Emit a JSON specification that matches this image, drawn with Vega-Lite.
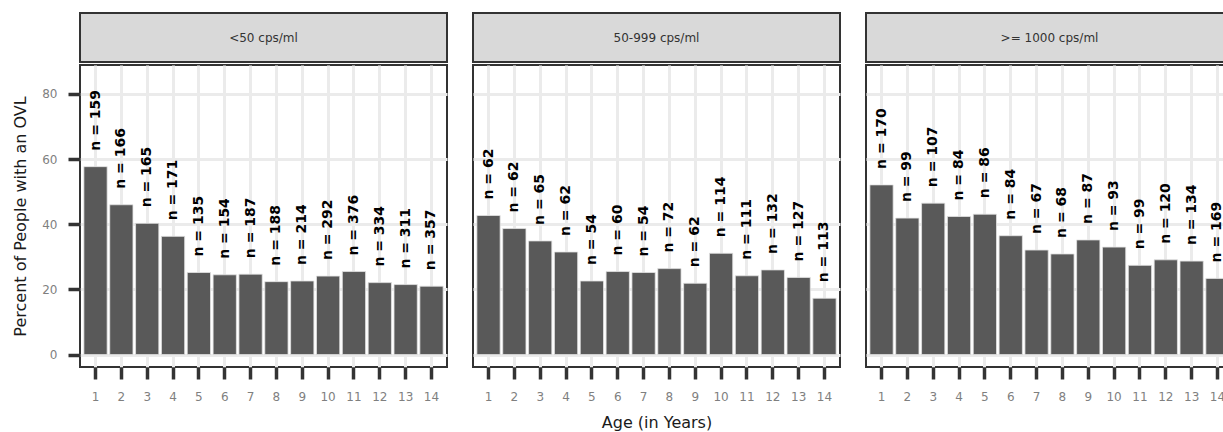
{
  "$schema": "https://vega.github.io/schema/vega-lite/v6.json",
  "padding": {"left": 11, "top": 12, "right": 0, "bottom": 0},
  "background": "white",
  "spacing": 24,
  "datasets": {
    "ovl": [
      {"panel": "<50 cps/ml", "age": 1, "pct": 57.7, "label": "n = 159"},
      {"panel": "<50 cps/ml", "age": 2, "pct": 46.0, "label": "n = 166"},
      {"panel": "<50 cps/ml", "age": 3, "pct": 40.3, "label": "n = 165"},
      {"panel": "<50 cps/ml", "age": 4, "pct": 36.3, "label": "n = 171"},
      {"panel": "<50 cps/ml", "age": 5, "pct": 25.2, "label": "n = 135"},
      {"panel": "<50 cps/ml", "age": 6, "pct": 24.5, "label": "n = 154"},
      {"panel": "<50 cps/ml", "age": 7, "pct": 24.7, "label": "n = 187"},
      {"panel": "<50 cps/ml", "age": 8, "pct": 22.4, "label": "n = 188"},
      {"panel": "<50 cps/ml", "age": 9, "pct": 22.6, "label": "n = 214"},
      {"panel": "<50 cps/ml", "age": 10, "pct": 24.1, "label": "n = 292"},
      {"panel": "<50 cps/ml", "age": 11, "pct": 25.5, "label": "n = 376"},
      {"panel": "<50 cps/ml", "age": 12, "pct": 22.1, "label": "n = 334"},
      {"panel": "<50 cps/ml", "age": 13, "pct": 21.5, "label": "n = 311"},
      {"panel": "<50 cps/ml", "age": 14, "pct": 21.0, "label": "n = 357"},
      {"panel": "50-999 cps/ml", "age": 1, "pct": 42.7, "label": "n = 62"},
      {"panel": "50-999 cps/ml", "age": 2, "pct": 38.7, "label": "n = 62"},
      {"panel": "50-999 cps/ml", "age": 3, "pct": 34.9, "label": "n = 65"},
      {"panel": "50-999 cps/ml", "age": 4, "pct": 31.5, "label": "n = 62"},
      {"panel": "50-999 cps/ml", "age": 5, "pct": 22.6, "label": "n = 54"},
      {"panel": "50-999 cps/ml", "age": 6, "pct": 25.5, "label": "n = 60"},
      {"panel": "50-999 cps/ml", "age": 7, "pct": 25.2, "label": "n = 54"},
      {"panel": "50-999 cps/ml", "age": 8, "pct": 26.4, "label": "n = 72"},
      {"panel": "50-999 cps/ml", "age": 9, "pct": 21.9, "label": "n = 62"},
      {"panel": "50-999 cps/ml", "age": 10, "pct": 31.1, "label": "n = 114"},
      {"panel": "50-999 cps/ml", "age": 11, "pct": 24.2, "label": "n = 111"},
      {"panel": "50-999 cps/ml", "age": 12, "pct": 26.0, "label": "n = 132"},
      {"panel": "50-999 cps/ml", "age": 13, "pct": 23.7, "label": "n = 127"},
      {"panel": "50-999 cps/ml", "age": 14, "pct": 17.3, "label": "n = 113"},
      {"panel": ">= 1000 cps/ml", "age": 1, "pct": 52.1, "label": "n = 170"},
      {"panel": ">= 1000 cps/ml", "age": 2, "pct": 41.9, "label": "n = 99"},
      {"panel": ">= 1000 cps/ml", "age": 3, "pct": 46.5, "label": "n = 107"},
      {"panel": ">= 1000 cps/ml", "age": 4, "pct": 42.4, "label": "n = 84"},
      {"panel": ">= 1000 cps/ml", "age": 5, "pct": 43.1, "label": "n = 86"},
      {"panel": ">= 1000 cps/ml", "age": 6, "pct": 36.5, "label": "n = 84"},
      {"panel": ">= 1000 cps/ml", "age": 7, "pct": 32.1, "label": "n = 67"},
      {"panel": ">= 1000 cps/ml", "age": 8, "pct": 30.9, "label": "n = 68"},
      {"panel": ">= 1000 cps/ml", "age": 9, "pct": 35.2, "label": "n = 87"},
      {"panel": ">= 1000 cps/ml", "age": 10, "pct": 33.0, "label": "n = 93"},
      {"panel": ">= 1000 cps/ml", "age": 11, "pct": 27.4, "label": "n = 99"},
      {"panel": ">= 1000 cps/ml", "age": 12, "pct": 29.1, "label": "n = 120"},
      {"panel": ">= 1000 cps/ml", "age": 13, "pct": 28.7, "label": "n = 134"},
      {"panel": ">= 1000 cps/ml", "age": 14, "pct": 23.4, "label": "n = 169"}
    ]
  },
  "config": {
    "font": "DejaVu Sans",
    "axis": {
      "domain": false,
      "grid": true,
      "gridColor": "#EBEBEB",
      "gridWidth": 3,
      "ticks": true,
      "tickColor": "#333333",
      "tickWidth": 3.5,
      "tickSize": 12,
      "labelColor": "#7F7F7F",
      "labelFont": "DejaVu Sans",
      "labelFontSize": 12,
      "titleFont": "DejaVu Sans",
      "titleFontSize": 16,
      "titleFontWeight": "normal",
      "titleColor": "#1A1A1A"
    }
  },
  "hconcat": [
    {
      "bounds": "flush",
      "spacing": 3,
      "vconcat": [
        {
          "data": {"name": "ovl"},
          "transform": [{"filter": "datum.panel == '<50 cps/ml'"}, {"aggregate": [{"op": "count", "as": "k"}], "groupby": ["panel"]}],
          "width": 367,
          "height": 49,
          "view": {"fill": "#D9D9D9", "stroke": "#333333", "strokeWidth": 2},
          "mark": {"type": "text", "fontSize": 12, "color": "#333333", "font": "DejaVu Sans", "baseline": "middle", "align": "center"},
          "encoding": {"text": {"field": "panel", "type": "nominal"}}
        },
        {
          "data": {"name": "ovl"},
          "transform": [{"filter": "datum.panel == '<50 cps/ml'"}],
          "width": 367,
          "height": 302,
          "view": {"fill": "white", "stroke": "#333333", "strokeWidth": 2},
          "encoding": {
            "x": {"field": "age", "type": "ordinal", "scale": {"paddingInner": 0.1, "paddingOuter": 0.15}, "axis": {"title": null, "labelAngle": 0, "bandPosition": 0.5, "labelPadding": 12}},
            "y": {"field": "pct", "type": "quantitative", "scale": {"domain": [-3.8, 88.9], "nice": false, "zero": false}, "axis": {"title": "Percent of People with an OVL", "values": [0, 20, 40, 60, 80], "labelPadding": 11, "titlePadding": 13}}
          },
          "layer": [
            {"mark": {"type": "bar", "color": "#595959", "stroke": "#E3E3E3", "strokeWidth": 0.8}},
            {"mark": {"type": "text", "angle": 270, "align": "left", "baseline": "middle", "dx": 16, "font": "DejaVu Sans", "fontWeight": "bold", "fontSize": 14, "color": "#000000"}, "encoding": {"text": {"field": "label", "type": "nominal"}}}
          ]
        }
      ]
    },
    {
      "bounds": "flush",
      "spacing": 3,
      "vconcat": [
        {
          "data": {"name": "ovl"},
          "transform": [{"filter": "datum.panel == '50-999 cps/ml'"}, {"aggregate": [{"op": "count", "as": "k"}], "groupby": ["panel"]}],
          "width": 367,
          "height": 49,
          "view": {"fill": "#D9D9D9", "stroke": "#333333", "strokeWidth": 2},
          "mark": {"type": "text", "fontSize": 12, "color": "#333333", "font": "DejaVu Sans", "baseline": "middle", "align": "center"},
          "encoding": {"text": {"field": "panel", "type": "nominal"}}
        },
        {
          "data": {"name": "ovl"},
          "transform": [{"filter": "datum.panel == '50-999 cps/ml'"}],
          "width": 367,
          "height": 302,
          "view": {"fill": "white", "stroke": "#333333", "strokeWidth": 2},
          "encoding": {
            "x": {"field": "age", "type": "ordinal", "scale": {"paddingInner": 0.1, "paddingOuter": 0.15}, "axis": {"title": "Age (in Years)", "labelAngle": 0, "bandPosition": 0.5, "labelPadding": 12, "titlePadding": 12}},
            "y": {"field": "pct", "type": "quantitative", "scale": {"domain": [-3.8, 88.9], "nice": false, "zero": false}, "axis": {"title": null, "values": [0, 20, 40, 60, 80], "labels": false, "ticks": false}}
          },
          "layer": [
            {"mark": {"type": "bar", "color": "#595959", "stroke": "#E3E3E3", "strokeWidth": 0.8}},
            {"mark": {"type": "text", "angle": 270, "align": "left", "baseline": "middle", "dx": 16, "font": "DejaVu Sans", "fontWeight": "bold", "fontSize": 14, "color": "#000000"}, "encoding": {"text": {"field": "label", "type": "nominal"}}}
          ]
        }
      ]
    },
    {
      "bounds": "flush",
      "spacing": 3,
      "vconcat": [
        {
          "data": {"name": "ovl"},
          "transform": [{"filter": "datum.panel == '>= 1000 cps/ml'"}, {"aggregate": [{"op": "count", "as": "k"}], "groupby": ["panel"]}],
          "width": 367,
          "height": 49,
          "view": {"fill": "#D9D9D9", "stroke": "#333333", "strokeWidth": 2},
          "mark": {"type": "text", "fontSize": 12, "color": "#333333", "font": "DejaVu Sans", "baseline": "middle", "align": "center"},
          "encoding": {"text": {"field": "panel", "type": "nominal"}}
        },
        {
          "data": {"name": "ovl"},
          "transform": [{"filter": "datum.panel == '>= 1000 cps/ml'"}],
          "width": 367,
          "height": 302,
          "view": {"fill": "white", "stroke": "#333333", "strokeWidth": 2},
          "encoding": {
            "x": {"field": "age", "type": "ordinal", "scale": {"paddingInner": 0.1, "paddingOuter": 0.15}, "axis": {"title": null, "labelAngle": 0, "bandPosition": 0.5, "labelPadding": 12}},
            "y": {"field": "pct", "type": "quantitative", "scale": {"domain": [-3.8, 88.9], "nice": false, "zero": false}, "axis": {"title": null, "values": [0, 20, 40, 60, 80], "labels": false, "ticks": false}}
          },
          "layer": [
            {"mark": {"type": "bar", "color": "#595959", "stroke": "#E3E3E3", "strokeWidth": 0.8}},
            {"mark": {"type": "text", "angle": 270, "align": "left", "baseline": "middle", "dx": 16, "font": "DejaVu Sans", "fontWeight": "bold", "fontSize": 14, "color": "#000000"}, "encoding": {"text": {"field": "label", "type": "nominal"}}}
          ]
        }
      ]
    }
  ]
}
